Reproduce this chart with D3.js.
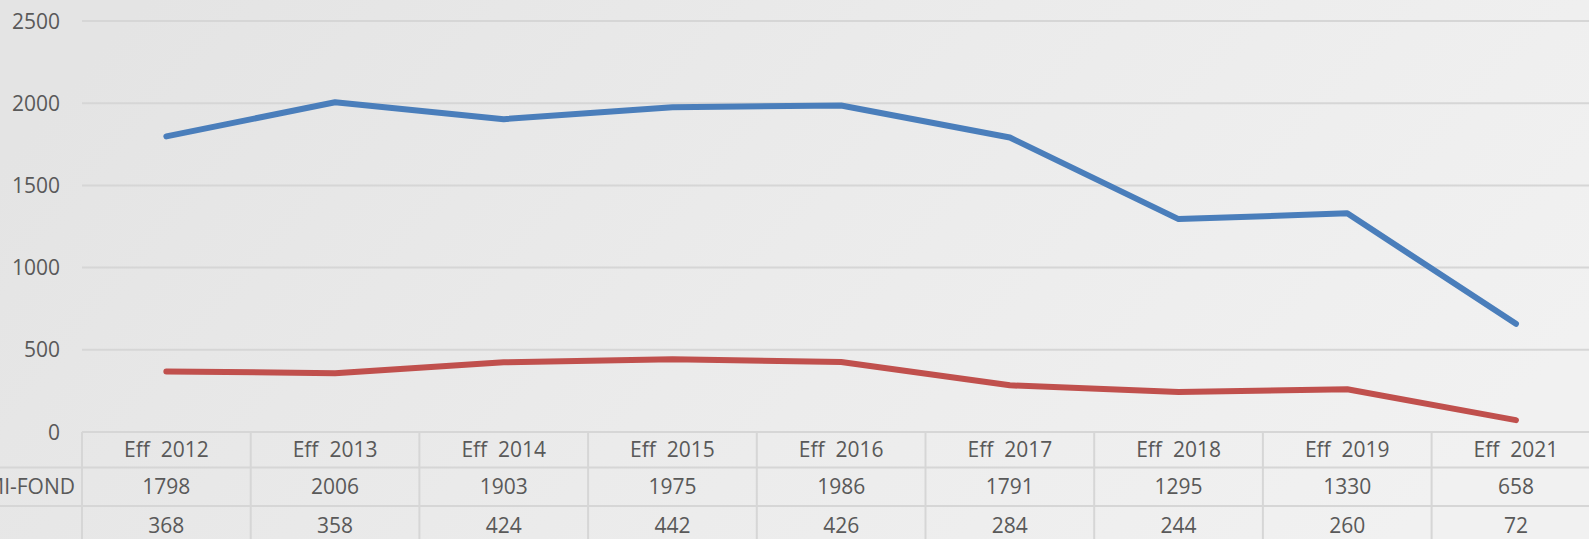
<!DOCTYPE html>
<html><head><meta charset="utf-8">
<script src="https://cdn.jsdelivr.net/npm/d3@7/dist/d3.min.js"></script>
<style>html,body{margin:0;padding:0;overflow:hidden;background:#ececec}</style>
</head><body>
<svg id="c" width="1589" height="539"></svg>
<script>
const categories = ["Eff  2012","Eff  2013","Eff  2014","Eff  2015","Eff  2016","Eff  2017","Eff  2018","Eff  2019","Eff  2021"];
const seriesNames = ["MI-FOND", ""];
const seriesA = [1798, 2006, 1903, 1975, 1986, 1791, 1295, 1330, 658];
const seriesB = [368, 358, 424, 442, 426, 284, 244, 260, 72];
const yTicks = [0, 500, 1000, 1500, 2000, 2500];

const W = 1589, H = 539;
const svg = d3.select("#c");
const defs = svg.append("defs");
const g1 = defs.append("linearGradient").attr("id","bg").attr("x1","0").attr("y1","0.3").attr("x2","1").attr("y2","0.6");
g1.append("stop").attr("offset","0").attr("stop-color","#e4e4e4");
g1.append("stop").attr("offset","0.5").attr("stop-color","#ebebeb");
g1.append("stop").attr("offset","1").attr("stop-color","#f1f1f1");
svg.append("rect").attr("width",W).attr("height",H).attr("fill","url(#bg)");

const left = 82, step = 168.7;
const x = d3.scaleBand().domain(categories).range([left, left + step*categories.length]).padding(0);
const y = d3.scaleLinear().domain([0, 2500]).range([432, 21]);
const font = "'Open Sans', 'Liberation Sans', sans-serif";
const fs = 21;
const txt = "#595959", gridC = "#d6d6d6";

// gridlines
svg.append("g").selectAll("line").data(yTicks.filter(d=>d>0)).join("line")
  .attr("x1", left).attr("x2", W).attr("y1", d=>y(d)).attr("y2", d=>y(d))
  .attr("stroke", gridC).attr("stroke-width", 2);

// y axis labels
const yAxis = d3.axisLeft(y).tickValues(yTicks).tickFormat(d3.format("d")).tickSize(0).tickPadding(0);
const ya = svg.append("g").attr("transform", `translate(60,0)`).call(yAxis);
ya.select(".domain").remove();
ya.selectAll("text").attr("font-family", font).attr("font-size", fs).attr("fill", txt).attr("dy","0.34em");

// data table
const rowY = [432, 467.5, 506, 545];
const tbl = svg.append("g");
tbl.append("line").attr("x1", left).attr("x2", W).attr("y1", rowY[0]).attr("y2", rowY[0]).attr("stroke", gridC).attr("stroke-width", 2);
[1,2].forEach(i => tbl.append("line").attr("x1", 0).attr("x2", W).attr("y1", rowY[i]).attr("y2", rowY[i]).attr("stroke", gridC).attr("stroke-width", 2));
tbl.selectAll("line.v").data(categories).join("line").attr("class","v")
  .attr("x1", d=>x(d)).attr("x2", d=>x(d)).attr("y1", rowY[0]).attr("y2", H)
  .attr("stroke", gridC).attr("stroke-width", 2);
const cell = (row, vals) => tbl.append("g").selectAll("text").data(vals).join("text")
  .attr("x", (d,i)=>x(categories[i]) + x.bandwidth()/2)
  .attr("y", (rowY[row]+rowY[row+1])/2).attr("dy","0.35em")
  .attr("text-anchor","middle").attr("font-family", font).attr("font-size", fs).attr("fill", txt)
  .style("white-space","pre")
  .text(d=>d);
cell(0, categories);
cell(1, seriesA);
cell(2, seriesB);
tbl.append("text").attr("x", 75).attr("y", (rowY[1]+rowY[2])/2).attr("dy","0.35em")
  .attr("text-anchor","end").attr("font-family", font).attr("font-size", fs).attr("fill", txt).text(seriesNames[0]);

// lines
const line = d3.line().x((d,i)=>x(categories[i]) + x.bandwidth()/2).y(d=>y(d));
svg.append("path").datum(seriesA).attr("d", line).attr("fill","none")
  .attr("stroke","#4a7ebb").attr("stroke-width",6).attr("stroke-linecap","round").attr("stroke-linejoin","round");
svg.append("path").datum(seriesB).attr("d", line).attr("fill","none")
  .attr("stroke","#c0504d").attr("stroke-width",6).attr("stroke-linecap","round").attr("stroke-linejoin","round");
</script>
</body></html>
